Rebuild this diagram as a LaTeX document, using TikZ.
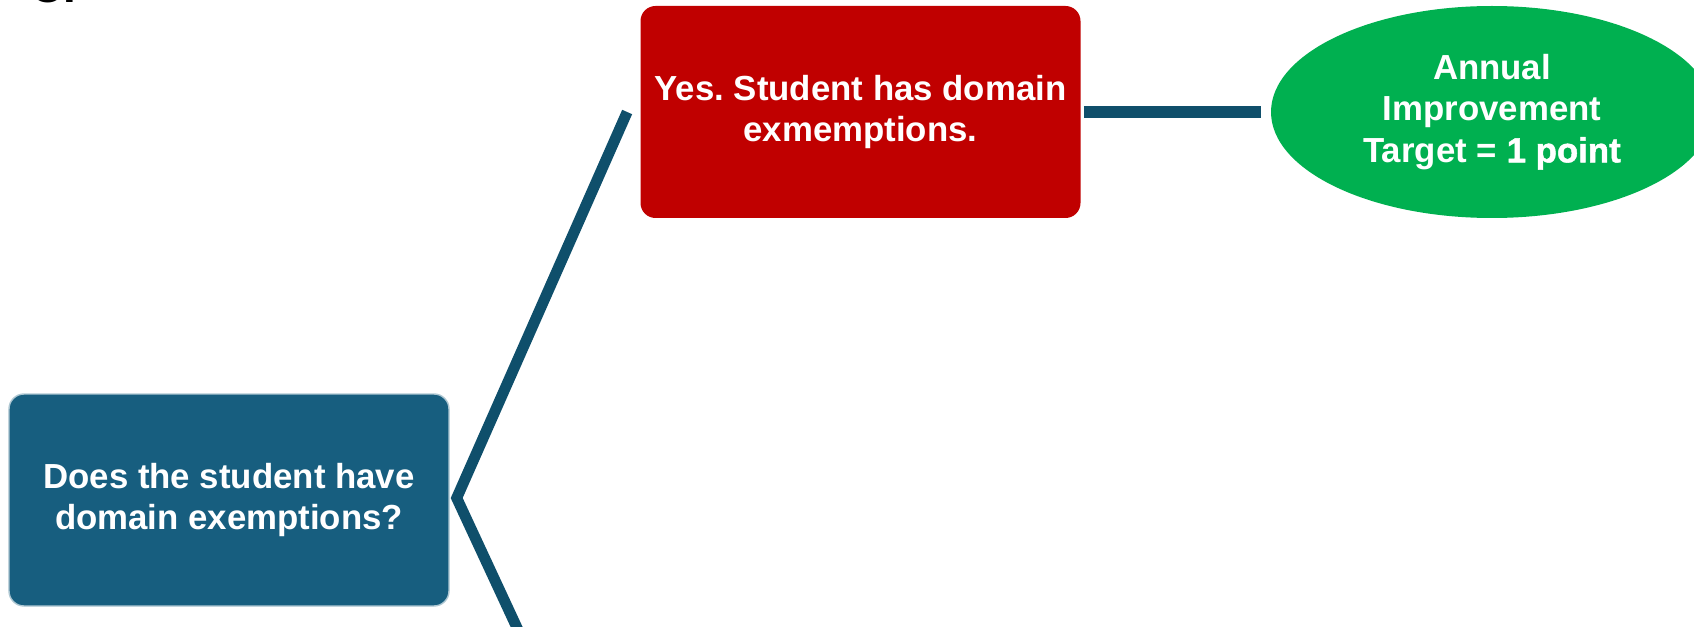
\documentclass[tikz,border=0pt]{standalone}
\usepackage{fontspec}
\setmainfont{Liberation Sans}
\newfontface\heavyfont[FakeBold=1.4]{Liberation Sans Bold}
\usepackage{tikz}
\usetikzlibrary{shapes.geometric}
\definecolor{boxred}{HTML}{C00000}
\definecolor{boxblue}{HTML}{175E7F}
\definecolor{linkblue}{HTML}{0F4F6B}
\definecolor{targetgreen}{HTML}{00B050}
\frenchspacing

\begin{document}
\begin{tikzpicture}[
  card/.style={rounded corners=0.3cm,minimum width=8.8cm,minimum height=4.24cm,
    inner sep=0pt,align=center,text=white,font=\fontsize{19.8}{23.8}\selectfont\bfseries},
  target/.style={ellipse,fill=targetgreen,minimum width=8.84cm,minimum height=4.24cm,
    inner sep=0pt,align=center,text=white,font=\fontsize{19.8}{23.6}\selectfont\bfseries},
  link/.style={linkblue,line width=6.2pt,line join=miter}]
  \useasboundingbox (0,0) rectangle (33.88,12.52);
  \node[anchor=base west,inner sep=0pt,font=\fontsize{26}{26}\selectfont\bfseries] (tag) at (0.6,12.47) {C.};
  \node[card,fill=boxblue,draw=boxblue!35,line width=0.8pt] (q) at (4.58,2.52) {Does the student have\\domain exemptions?};
  \node[card,fill=boxred] (yes) at (17.21,10.28) {Yes. Student has domain\\exmemptions.};
  \node[target] (aim) at (29.84,10.28) {Annual\\Improvement\\Target = {\heavyfont 1 point}};
  % fork and the loose lower branch
  \coordinate (fork) at ([xshift=0.14cm,yshift=0.04cm]q.east);
  \coordinate (no) at (10.5,-0.38);
  \draw[link] (no) -- (fork) -- ([xshift=-0.26cm]yes.west);
  \draw[link,line width=6.8pt,shorten <=0.06cm,shorten >=0.2cm] (yes) -- (aim);
\end{tikzpicture}
\end{document}
